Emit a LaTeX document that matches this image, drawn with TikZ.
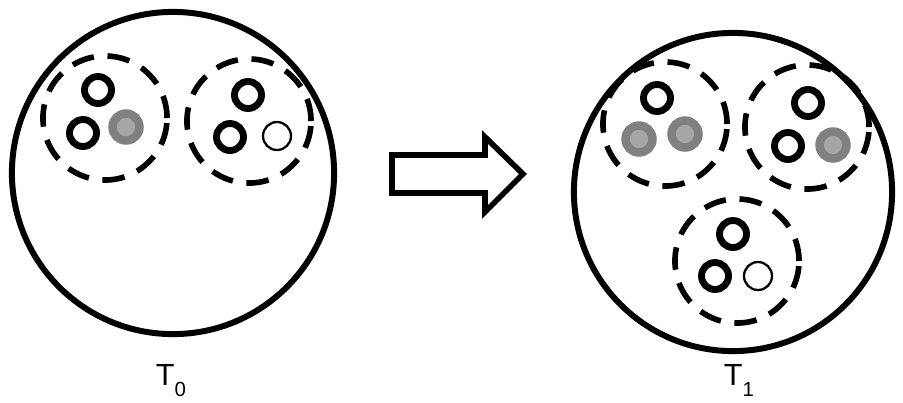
\documentclass[tikz,border=0pt]{standalone}
\usepackage{fontspec}
\setmainfont{Liberation Sans}
\usepackage{xcolor}
\usetikzlibrary{positioning}
\definecolor{ringgray}{HTML}{808080}
\definecolor{coregray}{HTML}{A6A6A6}
\tikzset{
  world/.style={draw, circle, line width=1.7pt, minimum size=3.2cm, inner sep=0pt},
  cluster/.style={draw, circle, dash pattern=on 6.4pt off 3.9pt, line width=1.6pt, minimum size=1.24cm, inner sep=0pt},
  member/.style={draw, circle, line width=1.95pt, minimum size=0.27cm, inner sep=0pt},
  infected/.style={draw=ringgray, fill=coregray, circle, line width=2.4pt, minimum size=0.27cm, inner sep=0pt},
  fresh/.style={draw, circle, line width=0.65pt, minimum size=0.28cm, inner sep=0pt},
  stamp/.style={font=\fontsize{8.7}{10}\selectfont, anchor=base, inner sep=0pt}
}
\newcommand{\tick}[1]{T\raisebox{-3.2pt}{\fontsize{5.8}{6}\selectfont #1}}

\begin{document}
\begin{tikzpicture}[x=0.01cm, y=-0.01cm]
        \useasboundingbox (0,0) rectangle (903,402);

        % Before
        \node[world, minimum size=3.22cm] (w0) at (173,173) {};
        \node[cluster] (c01) at (105,118) {};
        \node[cluster] (c02) at (249,121) {};
        \node[member] (m011) at (98,90) {};
        \node[member] (m012) at (83,133) {};
        \node[infected] (m013) at (126,127) {};
        \node[member] (m021) at (248,95) {};
        \node[member] (m022) at (230,137) {};
        \node[fresh] (m023) at (277,136) {};
        \node[stamp] (t0) at (171,385) {\tick{0}};

        % Step
        \draw[line width=1.6pt, miter limit=10]
          (392,155) -- (485,155) -- (485,137) -- (523,174) -- (485,212) -- (485,193) -- (392,193) -- cycle;

        % After
        \node[world, minimum size=3.18cm] (w1) at (733,192) {};
        \node[cluster] (c11) at (665,124) {};
        \node[cluster] (c12) at (807,127) {};
        \node[cluster] (c13) at (737,261) {};
        \node[member] (m111) at (657,98) {};
        \node[infected] (m112) at (639,139) {};
        \node[infected] (m113) at (685,134) {};
        \node[member] (m121) at (808,103) {};
        \node[member] (m122) at (788,146) {};
        \node[infected] (m123) at (833,145) {};
        \node[member] (m131) at (733,234) {};
        \node[member] (m132) at (715,276) {};
        \node[fresh] (m133) at (758,276) {};
        \node[stamp] (t1) at (739,385) {\tick{1}};
\end{tikzpicture}
\end{document}
